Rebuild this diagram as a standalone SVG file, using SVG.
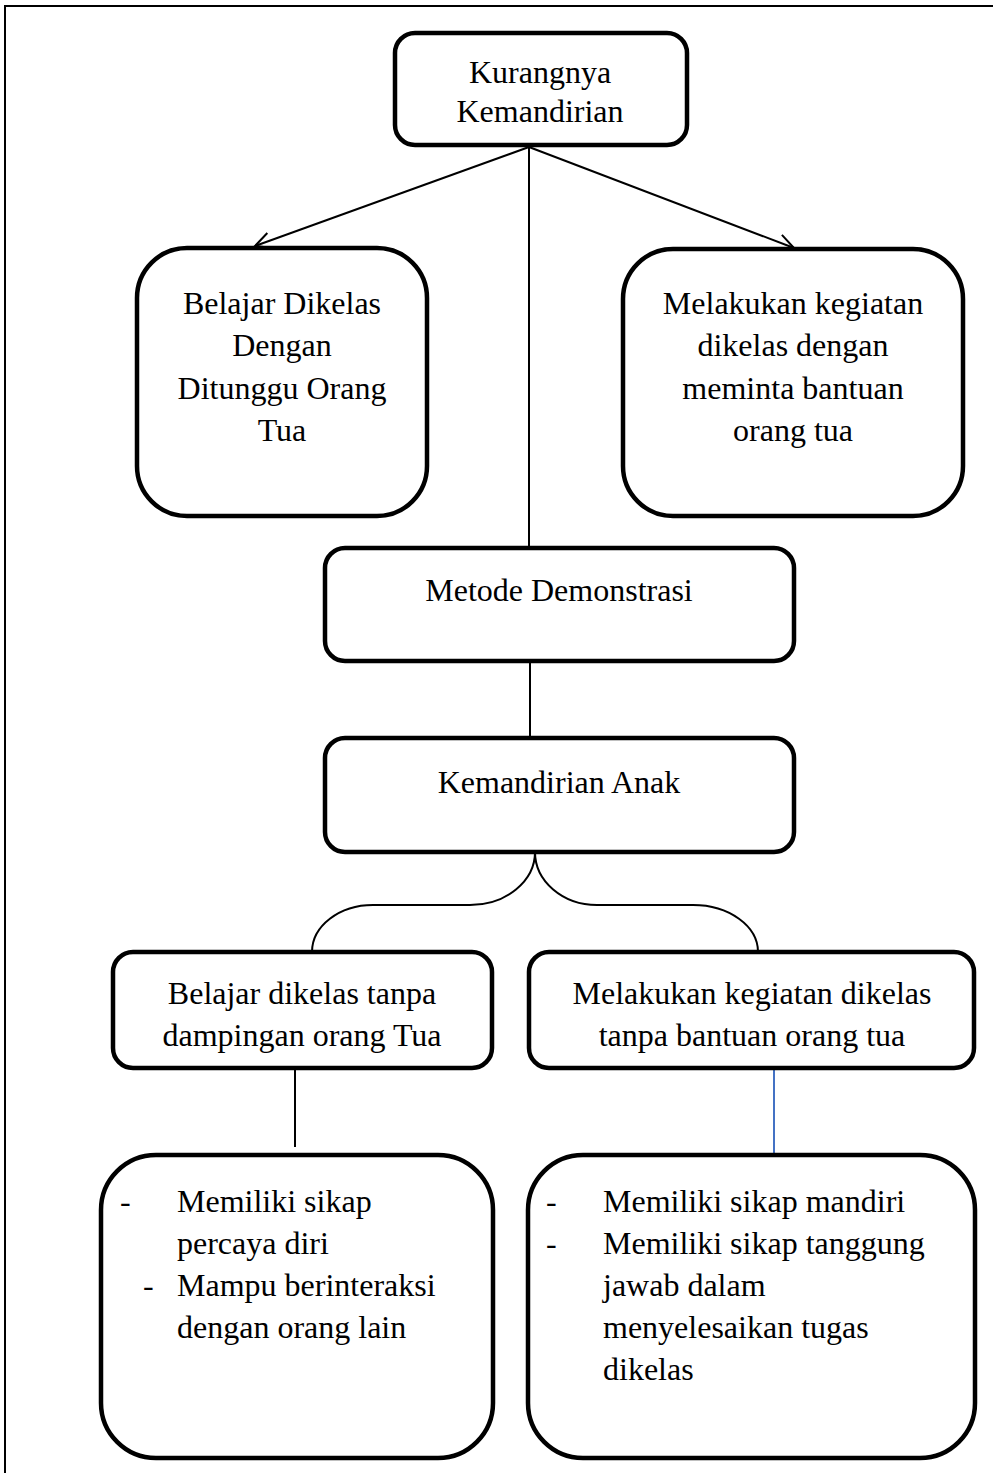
<svg xmlns="http://www.w3.org/2000/svg" width="993" height="1473" viewBox="0 0 993 1473">
<style>
.box{fill:#fff;stroke:#000;stroke-width:4.5}
.ln{fill:none;stroke:#000;stroke-width:2}
.t{font-family:"Liberation Serif","Times New Roman",serif;font-size:32px;fill:#000}
.c{text-anchor:middle}
</style>
<defs>
<marker id="arr" viewBox="0 0 20 20" refX="18" refY="10" markerWidth="20" markerHeight="20" markerUnits="userSpaceOnUse" orient="auto">
<path d="M2,2 L18,10 L2,18" fill="none" stroke="#000" stroke-width="2"/>
</marker>
</defs>
<rect width="993" height="1473" fill="#fff"/>
<g id="frame">
<path d="M993,6 L5,6 L5,1473" fill="none" stroke="#000" stroke-width="2"/>
</g>
<g id="connectors">
<line class="ln" x1="529" y1="147" x2="255" y2="246" marker-end="url(#arr)"/>
<line class="ln" x1="529" y1="147" x2="794" y2="248" marker-end="url(#arr)"/>
<line class="ln" x1="529" y1="147" x2="529" y2="548"/>
<line class="ln" x1="530" y1="662" x2="530" y2="738"/>
<path class="ln" d="M535,852 A65,53 0 0 1 470,905 L373,905 A61,47 0 0 0 312,952"/>
<path class="ln" d="M535,852 A62,53 0 0 0 597,905 L693,905 A65,47 0 0 1 758,952"/>
<line class="ln" x1="295" y1="1068" x2="295" y2="1147"/>
<line x1="774" y1="1068" x2="774" y2="1153" stroke="#4472C4" stroke-width="2"/>
</g>
<g id="n1">
<rect class="box" x="395" y="33" width="292" height="112" rx="20"/>
<text class="t c" x="540" y="83">Kurangnya</text>
<text class="t c" x="540" y="122">Kemandirian</text>
</g>
<g id="n2">
<rect class="box" x="137" y="248" width="290" height="268" rx="50"/>
<text class="t c" x="282" y="314">Belajar Dikelas</text>
<text class="t c" x="282" y="356">Dengan</text>
<text class="t c" x="282" y="399">Ditunggu Orang</text>
<text class="t c" x="282" y="441">Tua</text>
</g>
<g id="n3">
<rect class="box" x="623" y="249" width="340" height="267" rx="50"/>
<text class="t c" x="793" y="314">Melakukan kegiatan</text>
<text class="t c" x="793" y="356">dikelas dengan</text>
<text class="t c" x="793" y="399">meminta bantuan</text>
<text class="t c" x="793" y="441">orang tua</text>
</g>
<g id="n4">
<rect class="box" x="325" y="548" width="469" height="113" rx="20"/>
<text class="t c" x="559" y="601">Metode Demonstrasi</text>
</g>
<g id="n5">
<rect class="box" x="325" y="738" width="469" height="114" rx="20"/>
<text class="t c" x="559" y="793">Kemandirian Anak</text>
</g>
<g id="n6">
<rect class="box" x="113" y="952" width="379" height="116" rx="20"/>
<text class="t c" x="302" y="1004">Belajar dikelas tanpa</text>
<text class="t c" x="302" y="1046">dampingan orang Tua</text>
</g>
<g id="n7">
<rect class="box" x="529" y="952" width="445" height="116" rx="20"/>
<text class="t c" x="752" y="1004">Melakukan kegiatan dikelas</text>
<text class="t c" x="752" y="1046">tanpa bantuan orang tua</text>
</g>
<g id="n8">
<rect class="box" x="101" y="1155" width="392" height="303" rx="55"/>
<text class="t" x="120" y="1212">-</text>
<text class="t" x="177" y="1212">Memiliki sikap</text>
<text class="t" x="177" y="1254">percaya diri</text>
<text class="t" x="143" y="1296">-</text>
<text class="t" x="177" y="1296">Mampu berinteraksi</text>
<text class="t" x="177" y="1338">dengan orang lain</text>
</g>
<g id="n9">
<rect class="box" x="528" y="1155" width="447" height="303" rx="55"/>
<text class="t" x="546" y="1212">-</text>
<text class="t" x="603" y="1212">Memiliki sikap mandiri</text>
<text class="t" x="546" y="1254">-</text>
<text class="t" x="603" y="1254">Memiliki sikap tanggung</text>
<text class="t" x="603" y="1296">jawab dalam</text>
<text class="t" x="603" y="1338">menyelesaikan tugas</text>
<text class="t" x="603" y="1380">dikelas</text>
</g>
</svg>
